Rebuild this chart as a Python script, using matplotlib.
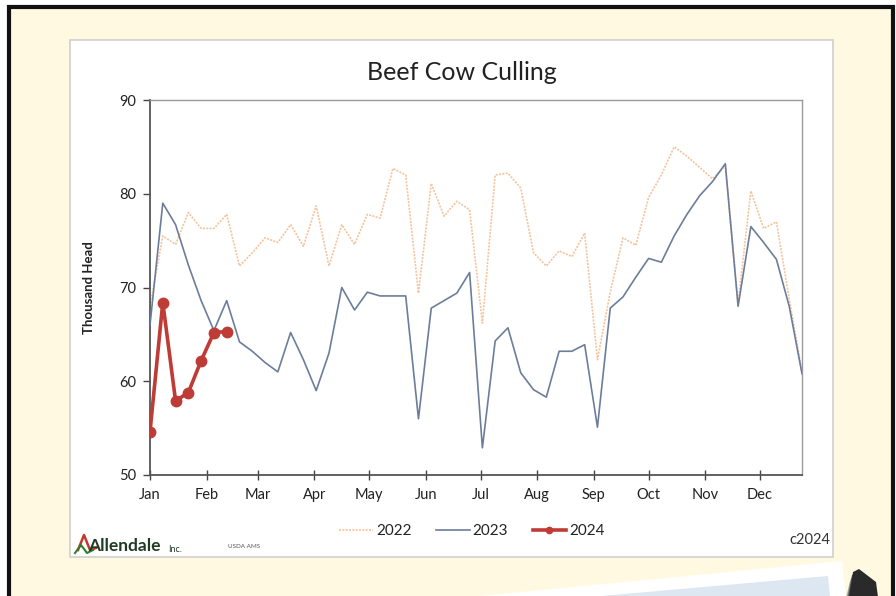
import matplotlib
matplotlib.use("Agg")
import matplotlib.pyplot as plt
from matplotlib.patches import Rectangle, Polygon
from matplotlib.lines import Line2D

# ---------------- data ----------------
months = ["Jan", "Feb", "Mar", "Apr", "May", "Jun", "Jul", "Aug", "Sep", "Oct", "Nov", "Dec"]
month_start_day = [0, 31, 59, 90, 120, 151, 181, 212, 243, 273, 304, 334]

y2022 = [68.0, 75.5, 74.6, 78.0, 76.3, 76.3, 77.8, 72.3, 73.7, 75.3, 74.8, 76.7, 74.4,
         78.7, 72.3, 76.7, 74.6, 77.8, 77.4, 82.7, 82.0, 69.4, 81.1, 77.6, 79.2, 78.3,
         66.2, 82.0, 82.2, 80.6, 73.7, 72.3, 73.9, 73.3, 75.8, 62.3, 69.5, 75.3, 74.5,
         79.6, 82.0, 85.0, 84.0, 82.8, 81.6, 83.0, 68.3, 80.3, 76.3, 77.0, 68.8, 61.0]
y2023 = [66.0, 79.0, 76.7, 72.4, 68.6, 65.4, 68.6, 64.2, 63.2, 62.0, 61.0, 65.2, 62.3,
         59.0, 63.0, 70.0, 67.6, 69.5, 69.1, 69.1, 69.1, 56.0, 67.8, 68.6, 69.4, 71.6,
         52.9, 64.3, 65.7, 60.9, 59.1, 58.3, 63.2, 63.2, 63.9, 55.1, 67.8, 69.0, 71.1,
         73.1, 72.7, 75.5, 77.8, 79.8, 81.3, 83.2, 68.0, 76.5, 74.8, 73.0, 68.0, 60.8]
y2024 = [54.6, 68.4, 57.9, 58.8, 62.2, 65.2, 65.3]

yticks = [50, 60, 70, 80, 90]

# ---------------- figure ----------------
W, H = 896, 596
fig = plt.figure(figsize=(W / 100, H / 100), dpi=100)
fig.patch.set_facecolor("white")
plt.rcParams["font.family"] = ["Lato", "DejaVu Sans"]

def fx(px):
    return px / W

def fy(py):
    return 1 - py / H

# cream background with black frame
fig.patches.append(Rectangle((fx(9), fy(600)), fx(893) - fx(9), fy(7) - fy(600),
                             transform=fig.transFigure, facecolor="#FFF9E2",
                             edgecolor="#111111", linewidth=3, zorder=0))
# white chart panel
fig.patches.append(Rectangle((fx(70), fy(557)), fx(833) - fx(70), fy(40) - fy(557),
                             transform=fig.transFigure, facecolor="white",
                             edgecolor="#CFCFCF", linewidth=1.2, zorder=0.5))
# decorative sheet at bottom right
fig.patches.append(Polygon([(fx(470), fy(597)), (fx(842), fy(561)), (fx(846), fy(597))],
                           closed=True, transform=fig.transFigure, facecolor="white",
                           edgecolor="none", zorder=0.6))
fig.patches.append(Polygon([(fx(590), fy(597)), (fx(828), fy(576)), (fx(830), fy(597))],
                           closed=True, transform=fig.transFigure, facecolor="#DCE7F2",
                           edgecolor="none", zorder=0.7))
for i, c in enumerate(["#BDBDBD", "#8A8A8A", "#555555", "#2A2A2A"]):
    d = 3 * (3 - i)
    fig.patches.append(Polygon([(fx(846 + i), fy(597)), (fx(850 + i), fy(572 + d)),
                                (fx(862 - i), fy(569 + d)), (fx(876 - d), fy(582)),
                                (fx(878 - d), fy(597))],
                               closed=True, transform=fig.transFigure, facecolor=c,
                               edgecolor="none", zorder=0.7 + 0.01 * i))

ax = fig.add_axes([fx(150), fy(475), fx(802) - fx(150), fy(100) - fy(475)])
ax.set_facecolor("white")
ax.set_zorder(2)

ax.plot(list(range(len(y2022))), y2022, color="#F4C39B", linewidth=1.2,
        linestyle=(0, (1.2, 0.8)), label="2022", zorder=2)
ax.plot(list(range(len(y2023))), y2023, color="#6C7D9B", linewidth=1.2, label="2023", zorder=3)
ax.plot(list(range(len(y2024))), y2024, color="#BE3B36", linewidth=2.6, marker="o",
        markersize=7.5, label="2024", zorder=4)

ax.set_xlim(0, 51)
ax.set_ylim(50, 90)
ax.set_yticks(yticks)
ax.set_xticks([d / 7 for d in month_start_day])
ax.set_xticklabels(months)
ax.tick_params(axis="x", direction="inout", length=7, width=1, colors="#444444",
               labelsize=10.5, labelcolor="#222222", pad=6)
ax.tick_params(axis="y", direction="out", length=5, width=1, colors="#444444",
               labelsize=10.5, labelcolor="#222222", pad=5)
for s in ["top", "right"]:
    ax.spines[s].set_color("#9A9A9A")
    ax.spines[s].set_linewidth(1.0)
for s in ["left", "bottom"]:
    ax.spines[s].set_color("#555555")
    ax.spines[s].set_linewidth(1.3)

ax.set_ylabel("Thousand Head", fontsize=9.5, fontweight="bold", color="#222222", labelpad=17)
fig.text(fx(462), fy(73), "Beef Cow Culling", fontsize=18, color="#222222",
         ha="center", va="center")

leg = fig.legend(loc="center", bbox_to_anchor=(fx(472), fy(531)), ncol=3, frameon=False,
                 fontsize=11, handlelength=2.2, handletextpad=0.2, columnspacing=1.6,
                 markerscale=0.6)
for t in leg.get_texts():
    t.set_color("#222222")

# logo + source + copyright
fig.lines.append(Line2D([fx(78), fx(84), fx(90), fx(96)], [fy(550), fy(535), fy(550), fy(548)],
                        transform=fig.transFigure, color="#C0392B", linewidth=1.8))
fig.lines.append(Line2D([fx(75), fx(81), fx(87), fx(93)], [fy(553), fy(545), fy(553), fy(550)],
                        transform=fig.transFigure, color="#2E7D32", linewidth=1.5))
fig.text(fx(88), fy(546), "Allendale", fontsize=12.5, fontweight="bold", color="#1E3B24",
         ha="left", va="center")
fig.text(fx(168), fy(549), "Inc.", fontsize=6.5, color="#1E3B24", ha="left", va="center")
fig.text(fx(228), fy(546), "USDA AMS", fontsize=4.5, color="#555555", ha="left", va="center")
fig.text(fx(830), fy(540), "c2024", fontsize=10.5, color="#333333", ha="right", va="center")

fig.savefig("out.png", dpi=100)
